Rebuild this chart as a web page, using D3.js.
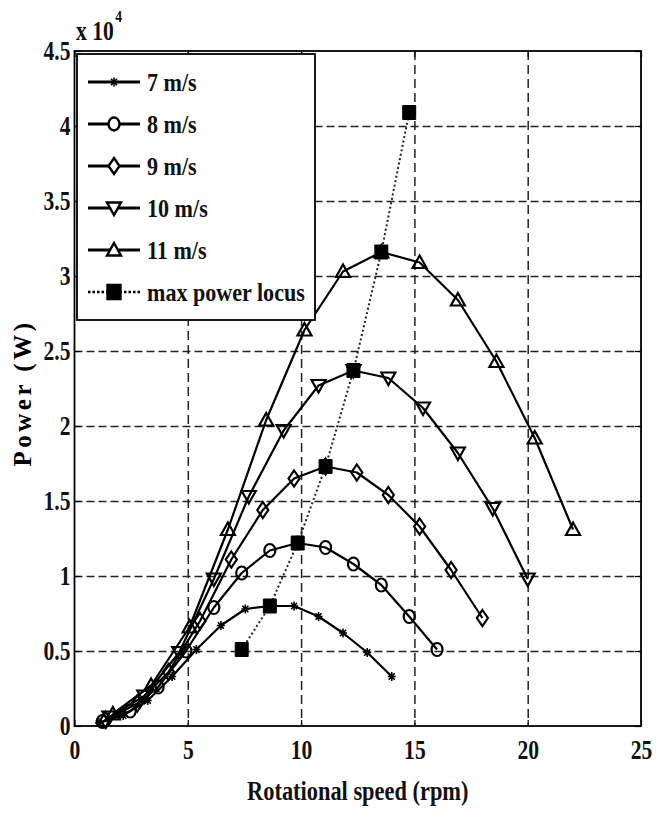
<!DOCTYPE html>
<html>
<head>
<meta charset="utf-8">
<script src="https://cdn.jsdelivr.net/npm/d3@7"></script>
<style>
  body { margin: 0; background: #fff; }
  svg { display: block; }
</style>
</head>
<body>
<svg id="chart" width="670" height="814"></svg>
<script>
// rotational speed (rpm) and power (x 10^4 W) for each wind speed
const rpm7  = [1.08, 2.15, 3.23, 4.31, 5.38, 6.46, 7.54, 8.62, 9.69, 10.77, 11.85, 12.92, 14.0];
const pow7  = [0.02, 0.07, 0.17, 0.33, 0.51, 0.67, 0.78, 0.80, 0.80, 0.73, 0.62, 0.49, 0.33];
const rpm8  = [1.23, 2.46, 3.69, 4.92, 6.15, 7.38, 8.62, 9.85, 11.08, 12.31, 13.54, 14.77, 16.0];
const pow8  = [0.03, 0.10, 0.26, 0.50, 0.79, 1.02, 1.17, 1.22, 1.19, 1.08, 0.94, 0.73, 0.51];
const rpm9  = [1.38, 2.77, 4.15, 5.54, 6.92, 8.31, 9.69, 11.08, 12.46, 13.85, 15.23, 16.62, 18.0];
const pow9  = [0.04, 0.15, 0.36, 0.70, 1.11, 1.44, 1.65, 1.73, 1.69, 1.54, 1.33, 1.04, 0.72];
const rpm10 = [1.54, 3.08, 4.62, 6.15, 7.69, 9.23, 10.77, 12.31, 13.85, 15.38, 16.92, 18.46, 20.0];
const pow10 = [0.06, 0.20, 0.49, 0.98, 1.53, 1.97, 2.27, 2.37, 2.32, 2.12, 1.82, 1.45, 0.98];
const rpm11 = [1.69, 3.38, 5.08, 6.77, 8.46, 10.15, 11.85, 13.54, 15.23, 16.92, 18.62, 20.31, 22.0];
const pow11 = [0.08, 0.27, 0.66, 1.31, 2.04, 2.64, 3.03, 3.16, 3.09, 2.84, 2.43, 1.92, 1.31];
const locusRpm = [7.38, 8.62, 9.85, 11.08, 12.31, 13.54, 14.77];
const locusPow = [0.51, 0.80, 1.22, 1.73, 2.37, 3.16, 4.09];

const xTicks = [0, 5, 10, 15, 20, 25];
const yTicks = [0, 0.5, 1, 1.5, 2, 2.5, 3, 3.5, 4, 4.5];
const legendLabels = ["7 m/s", "8 m/s", "9 m/s", "10 m/s", "11 m/s", "max power locus"];

const serif = "'Liberation Serif', 'Times New Roman', serif";

const svg = d3.select("#chart");
const margin = {top: 51, right: 29, bottom: 88, left: 74.5};
const W = 670 - margin.left - margin.right;
const H = 814 - margin.top - margin.bottom;

const x = d3.scaleLinear().domain([0, 25]).range([0, W]);
const y = d3.scaleLinear().domain([0, 4.5]).range([H, 0]);

const g = svg.append("g").attr("transform", `translate(${margin.left},${margin.top})`);

// dashed grid
g.append("g")
  .call(d3.axisBottom(x).tickValues(xTicks.slice(1, -1)).tickSize(H).tickFormat(""))
  .call(a => a.select(".domain").remove())
  .selectAll("line").attr("stroke", "#222").attr("stroke-width", 1.5).attr("stroke-dasharray", "9,5");
g.append("g")
  .call(d3.axisLeft(y).tickValues(yTicks.slice(1, -1)).tickSize(-W).tickFormat(""))
  .call(a => a.select(".domain").remove())
  .selectAll("line").attr("stroke", "#222").attr("stroke-width", 1.5).attr("stroke-dasharray", "8,4");

// axes with inward ticks (matlab style)
function styleAxis(a) {
  a.select(".domain").remove();
  a.selectAll("line").attr("stroke", "#000").attr("stroke-width", 1.2);
}
const xAxis = g.append("g").attr("transform", `translate(0,${H})`)
  .call(d3.axisBottom(x).tickValues(xTicks).tickSize(-6).tickPadding(14).tickFormat(d3.format("d")))
  .call(styleAxis);
xAxis.selectAll("text")
  .attr("font-family", serif).attr("font-size", 27).attr("font-weight", "bold").attr("fill", "#111")
  .attr("dy", "0.71em")
  .attr("transform", "scale(0.8,1)");

const yAxis = g.append("g")
  .call(d3.axisLeft(y).tickValues(yTicks).tickSize(-6).tickPadding(5).tickFormat(d => String(d)))
  .call(styleAxis);
yAxis.selectAll("text")
  .attr("font-family", serif).attr("font-size", 27).attr("font-weight", "bold").attr("fill", "#111")
  .attr("transform", "scale(0.8,1)");

g.append("g").call(d3.axisTop(x).tickValues(xTicks).tickSize(-6).tickFormat("")).call(styleAxis);
g.append("g").attr("transform", `translate(${W},0)`)
  .call(d3.axisRight(y).tickValues(yTicks).tickSize(-6).tickFormat("")).call(styleAxis);

g.append("rect").attr("width", W).attr("height", H)
  .attr("fill", "none").attr("stroke", "#000").attr("stroke-width", 1.8);

// markers
const markerPath = {
  star: "M-4,0H4M0,-4.5V4.5M-3,-3.2L3,3.2M-3,3.2L3,-3.2",
  circle: "M5.5,0A5.5,6.5,0,1,1,-5.5,0A5.5,6.5,0,1,1,5.5,0Z",
  diamond: "M0,-8L5.5,0L0,8L-5.5,0Z",
  tridown: "M-7,-5.5L7,-5.5L0,7Z",
  triup: "M0,-7L7,5.5L-7,5.5Z",
  square: "M-6.5,-7H6.5V7H-6.5Z"
};

const series = [
  {rpm: rpm7,  pow: pow7,  marker: "star"},
  {rpm: rpm8,  pow: pow8,  marker: "circle"},
  {rpm: rpm9,  pow: pow9,  marker: "diamond"},
  {rpm: rpm10, pow: pow10, marker: "tridown"},
  {rpm: rpm11, pow: pow11, marker: "triup"}
];

const line = d3.line().x(d => x(d[0])).y(d => y(d[1]));
const plot = g.append("g");

series.forEach(s => {
  const pts = s.rpm.map((r, i) => [r, s.pow[i]]);
  plot.append("path").datum(pts).attr("d", line)
    .attr("fill", "none").attr("stroke", "#000").attr("stroke-width", 2.2).attr("stroke-linejoin", "round");
  plot.selectAll(null).data(pts).enter().append("path")
    .attr("transform", d => `translate(${x(d[0])},${y(d[1])})`)
    .attr("d", markerPath[s.marker])
    .attr("fill", "none").attr("stroke", "#000").attr("stroke-width", s.marker === "star" ? 1.6 : 2.2);
});

const locus = locusRpm.map((r, i) => [r, locusPow[i]]);
plot.append("path").datum(locus).attr("d", line)
  .attr("fill", "none").attr("stroke", "#222").attr("stroke-width", 2).attr("stroke-dasharray", "2,2.5");
plot.selectAll(null).data(locus).enter().append("path")
  .attr("transform", d => `translate(${x(d[0])},${y(d[1])})`)
  .attr("d", markerPath.square).attr("fill", "#000").attr("stroke", "#000").attr("stroke-width", 1);

// legend
const legend = svg.append("g").attr("transform", "translate(77,54)");
legend.append("rect").attr("width", 238).attr("height", 266)
  .attr("fill", "#fff").attr("stroke", "#000").attr("stroke-width", 1.8);
const legendMarkers = ["star", "circle", "diamond", "tridown", "triup", "square"];
legendLabels.forEach((lab, i) => {
  const row = legend.append("g").attr("transform", `translate(0,${28 + i * 42})`);
  const isLocus = i === 5;
  row.append("line").attr("x1", 11).attr("x2", 63)
    .attr("stroke", "#000").attr("stroke-width", isLocus ? 2.5 : 3.2)
    .attr("stroke-dasharray", isLocus ? "2.5,2" : null);
  row.append("path").attr("transform", "translate(37,0)")
    .attr("d", markerPath[legendMarkers[i]])
    .attr("fill", isLocus ? "#000" : "#fff").attr("stroke", "#000")
    .attr("stroke-width", legendMarkers[i] === "star" ? 1.6 : 2.4);
  row.append("text").attr("transform", "translate(70,9) scale(0.85,1)")
    .attr("font-family", serif).attr("font-size", 26).attr("font-weight", "bold").attr("fill", "#111")
    .text(lab);
});

// axis labels
svg.append("text")
  .attr("transform", `translate(${margin.left + W / 2},800) scale(0.8,1)`)
  .attr("text-anchor", "middle")
  .attr("font-family", serif).attr("font-size", 28).attr("font-weight", "bold").attr("fill", "#111")
  .text("Rotational speed (rpm)");

svg.append("text")
  .attr("transform", "translate(31,393) rotate(-90)")
  .attr("text-anchor", "middle")
  .attr("font-family", serif).attr("font-size", 25).attr("font-weight", "bold")
  .attr("letter-spacing", 3.5).attr("fill", "#000")
  .text("Power (W)");

const expo = svg.append("text").attr("transform", "translate(76,40) scale(0.8,1)")
  .attr("font-family", serif).attr("font-size", 27).attr("font-weight", "bold").attr("fill", "#111");
expo.append("tspan").text("x 10");
expo.append("tspan").attr("font-size", 17).attr("dy", -18).attr("dx", 2).text("4");
</script>
</body>
</html>
